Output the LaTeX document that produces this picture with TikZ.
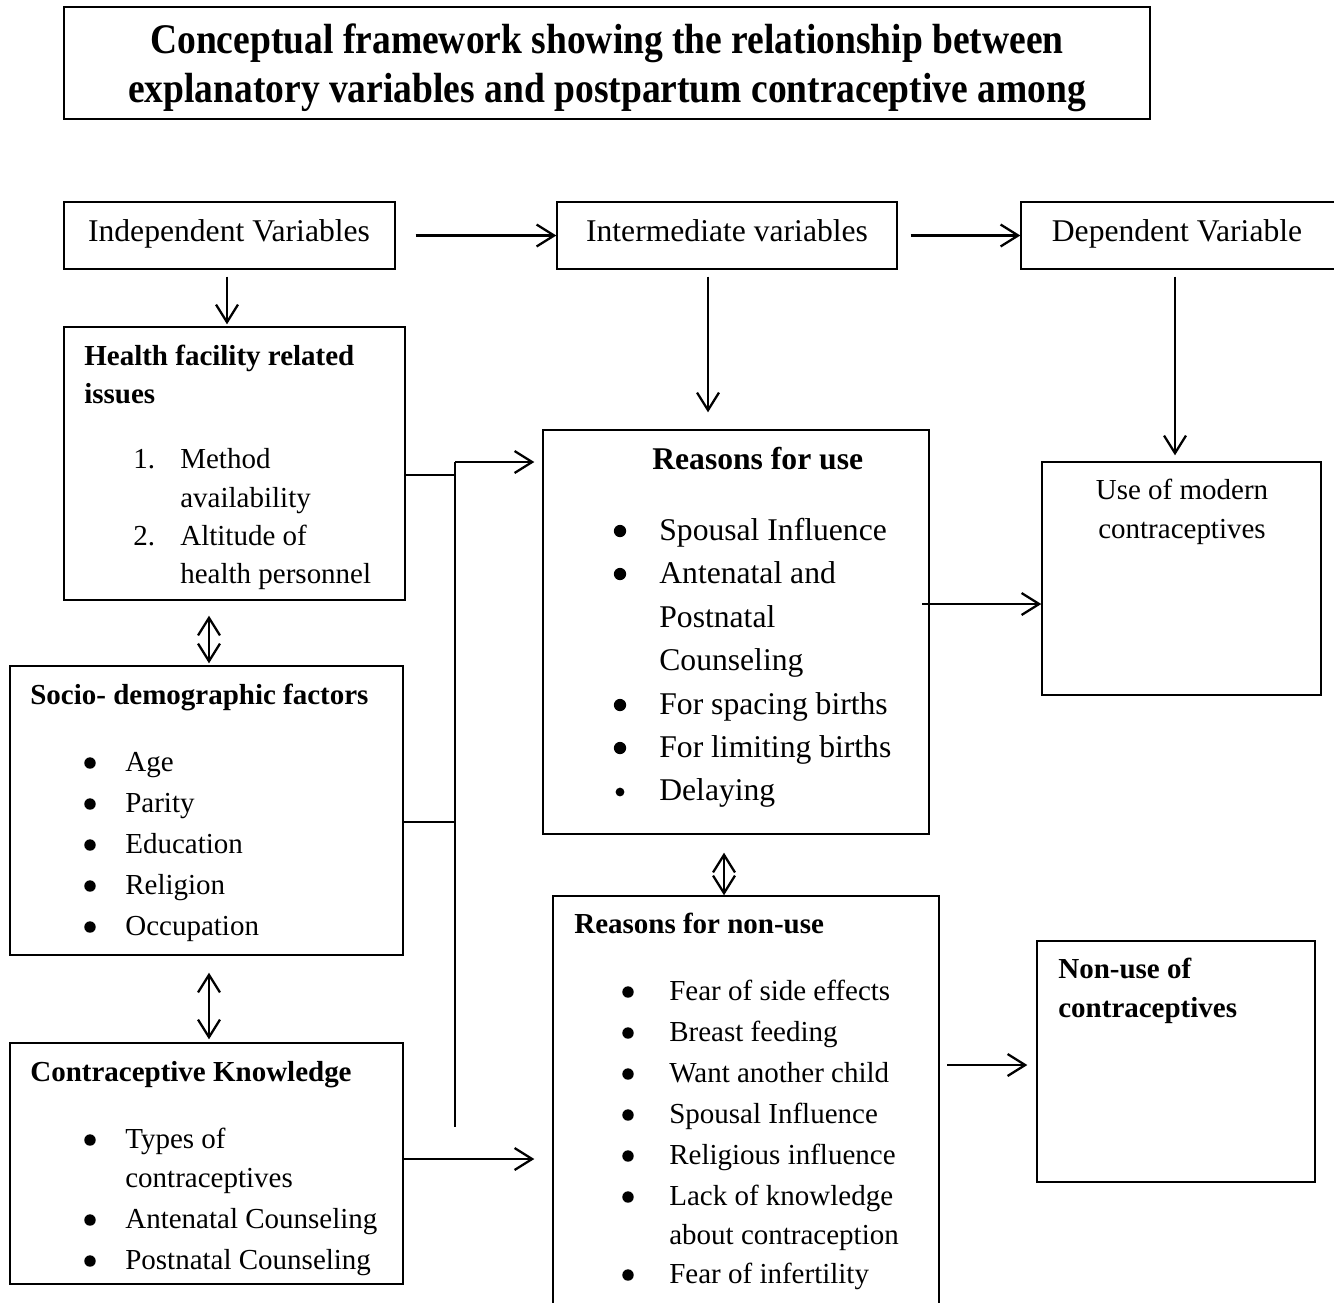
\documentclass[tikz,border=0pt]{standalone}
\usepackage{fontspec}
\setmainfont{Liberation Serif}
\newfontfamily\ttlfont{Liberation Serif}[FakeStretch=0.89]
\usetikzlibrary{arrows.meta, fit}

\tikzset{
    box/.style={draw, line width=0.8pt, inner sep=0pt},
    txt/.style={anchor=base west, inner sep=0pt, font=\fontsize{16.5}{20}\selectfont},
    bigtxt/.style={anchor=base west, inner sep=0pt, font=\fontsize{18}{22}\selectfont},
    hd/.style={anchor=base west, inner sep=0pt, font=\fontsize{16.5}{20}\selectfont\bfseries},
    bighd/.style={anchor=base west, inner sep=0pt, font=\fontsize{18}{22}\selectfont\bfseries},
    ttl/.style={anchor=base, inner sep=0pt, font=\ttlfont\fontsize{24}{28}\selectfont\bfseries},
    bul/.style={circle, fill, inner sep=0pt, minimum size=6.5pt},
    arr/.style={-{Straight Barb[length=10pt, width=12.5pt]}, line width=1.3pt},
    darr/.style={{Straight Barb[length=10pt, width=12.5pt]}-{Straight Barb[length=10pt, width=12.5pt]}, line width=1.3pt},
}

\begin{document}
\begin{tikzpicture}[x=0.02cm, y=-0.02cm]

    \useasboundingbox (0,0) rectangle (1334,1302);

    \node[box, fit={(64,7) (1150,119)}] (title) {};
    \node[ttl] (ttl1) at (607,53) {Conceptual framework showing the relationship between};
    \node[ttl] (ttl2) at (607,102) {explanatory variables and postpartum contraceptive among};

    \node[box, fit={(64,202) (395,269)}] (indep) {};
    \node[bigtxt, anchor=base] (indepTxt) at (229,241) {Independent Variables};

    \node[box, fit={(557,202) (897,269)}] (inter) {};
    \node[bigtxt, anchor=base] (interTxt) at (727,241) {Intermediate variables};

    \node[box, fit={(1021,202) (1345,269)}] (dep) {};
    \node[bigtxt, anchor=base] (depTxt) at (1177,241) {Dependent Variable};

    \node[box, fit={(64,327) (405,600)}] (health) {};
    \node[hd] (healthHd1) at (84,365) {Health facility related};
    \node[hd] (healthHd2) at (84,403) {issues};
    \node[txt] (healthNo1) at (133,468) {1.};
    \node[txt] (health1) at (180,468) {Method};
    \node[txt] (health1b) at (180,507) {availability};
    \node[txt] (healthNo2) at (133,545) {2.};
    \node[txt] (health2) at (180,545) {Altitude of};
    \node[txt] (health2b) at (180,583) {health personnel};

    \node[box, fit={(10,666) (403,955)}] (socio) {};
    \node[hd] (socioHd) at (30,704) {Socio- demographic factors};
    \node[bul] (socioB1) at (90,763) {};
    \node[txt] (socio1) at (125,771) {Age};
    \node[bul] (socioB2) at (90,804) {};
    \node[txt] (socio2) at (125,812) {Parity};
    \node[bul] (socioB3) at (90,845) {};
    \node[txt] (socio3) at (125,853) {Education};
    \node[bul] (socioB4) at (90,886) {};
    \node[txt] (socio4) at (125,894) {Religion};
    \node[bul] (socioB5) at (90,927) {};
    \node[txt] (socio5) at (125,935) {Occupation};

    \node[box, fit={(10,1043) (403,1284)}] (know) {};
    \node[hd] (knowHd) at (30,1081) {Contraceptive Knowledge};
    \node[bul] (knowB1) at (90,1140) {};
    \node[txt] (know1) at (125,1148) {Types of};
    \node[txt] (know1b) at (125,1187) {contraceptives};
    \node[bul] (knowB2) at (90,1220) {};
    \node[txt] (know2) at (125,1228) {Antenatal Counseling};
    \node[bul] (knowB3) at (90,1261) {};
    \node[txt] (know3) at (125,1269) {Postnatal Counseling};

    \node[box, fit={(543,430) (929,834)}] (use) {};
    \node[bighd] (useHd) at (652,469) {Reasons for use};
    \node[bul, minimum size=7pt] (useB1) at (620,531) {};
    \node[bigtxt] (use1) at (659,540) {Spousal Influence};
    \node[bul, minimum size=7pt] (useB2) at (620,574) {};
    \node[bigtxt] (use2) at (659,583) {Antenatal and};
    \node[bigtxt] (use2b) at (659,627) {Postnatal};
    \node[bigtxt] (use2c) at (659,670) {Counseling};
    \node[bul, minimum size=7pt] (useB3) at (620,705) {};
    \node[bigtxt] (use3) at (659,714) {For spacing births};
    \node[bul, minimum size=7pt] (useB4) at (620,748) {};
    \node[bigtxt] (use4) at (659,757) {For limiting births};
    \node[bul, minimum size=5pt] (useB5) at (620,792) {};
    \node[bigtxt] (use5) at (659,800) {Delaying};

    \node[box, fit={(1042,462) (1321,695)}] (modern) {};
    \node[txt, anchor=base] (modernTxt1) at (1182,499) {Use of modern};
    \node[txt, anchor=base] (modernTxt2) at (1182,538) {contraceptives};

    \node[box, fit={(553,896) (939,1320)}] (nonuse) {};
    \node[hd] (nonuseHd) at (574,933) {Reasons for non-use};
    \node[bul] (nonuseB1) at (628,992) {};
    \node[txt] (nonuse1) at (669,1000) {Fear of side effects};
    \node[bul] (nonuseB2) at (628,1033) {};
    \node[txt] (nonuse2) at (669,1041) {Breast feeding};
    \node[bul] (nonuseB3) at (628,1074) {};
    \node[txt] (nonuse3) at (669,1082) {Want another child};
    \node[bul] (nonuseB4) at (628,1115) {};
    \node[txt] (nonuse4) at (669,1123) {Spousal Influence};
    \node[bul] (nonuseB5) at (628,1156) {};
    \node[txt] (nonuse5) at (669,1164) {Religious influence};
    \node[bul] (nonuseB6) at (628,1197) {};
    \node[txt] (nonuse6) at (669,1205) {Lack of knowledge};
    \node[txt] (nonuse6b) at (669,1244) {about contraception};
    \node[bul] (nonuseB7) at (628,1275) {};
    \node[txt] (nonuse7) at (669,1283) {Fear of infertility};

    \node[box, fit={(1037,941) (1315,1182)}] (nonmod) {};
    \node[hd] (nonmodHd1) at (1058,978) {Non-use of};
    \node[hd] (nonmodHd2) at (1058,1017) {contraceptives};

    \coordinate (downA) at (227,0);
    \coordinate (downB) at (708,0);
    \coordinate (downC) at (1175,0);
    \coordinate (twoA) at (209,0);
    \coordinate (twoB) at (724,0);
    \coordinate (busTop) at (455,462);
    \coordinate (busBot) at (455,1127);
    \coordinate (useOut) at (922,604);
    \coordinate (knowOut) at (403,1159);
    \coordinate (nonuseOut) at (947,1065);

    \draw[arr, shorten <=0.4cm] (indep) -- (inter);
    \draw[arr, shorten <=0.26cm] (inter) -- (dep);

    \draw[arr, shorten <=0.14cm, shorten >=0.04cm] (downA |- indep.south) -- (downA |- health.north);
    \draw[arr, shorten <=0.14cm, shorten >=0.34cm] (downB |- inter.south) -- (downB |- use.north);
    \draw[arr, shorten <=0.14cm, shorten >=0.12cm] (downC |- dep.south) -- (downC |- modern.north);

    \draw[darr, shorten <=0.3cm, shorten >=0.04cm] (twoA |- health.south) -- (twoA |- socio.north);
    \draw[darr, shorten <=0.34cm, shorten >=0.06cm] (twoA |- socio.south) -- (twoA |- know.north);
    \draw[darr, shorten <=0.36cm] (twoB |- use.south) -- (twoB |- nonuse.north);

    \draw[line width=1.1pt] ([yshift=-0.23cm]health.east) -| (busTop) -- (busBot);
    \draw[line width=1.1pt] ([yshift=-0.23cm]socio.east) -- ([yshift=-0.23cm]socio.east -| busTop);
    \draw[arr, shorten >=0.16cm] (busTop) -- (busTop -| use.west);

    \draw[arr, shorten >=0.36cm] (knowOut) -- (knowOut -| nonuse.west);
    \draw[arr] (useOut) -- (useOut -| modern.west);
    \draw[arr, shorten >=0.18cm] (nonuseOut) -- (nonuseOut -| nonmod.west);

\end{tikzpicture}
\end{document}
